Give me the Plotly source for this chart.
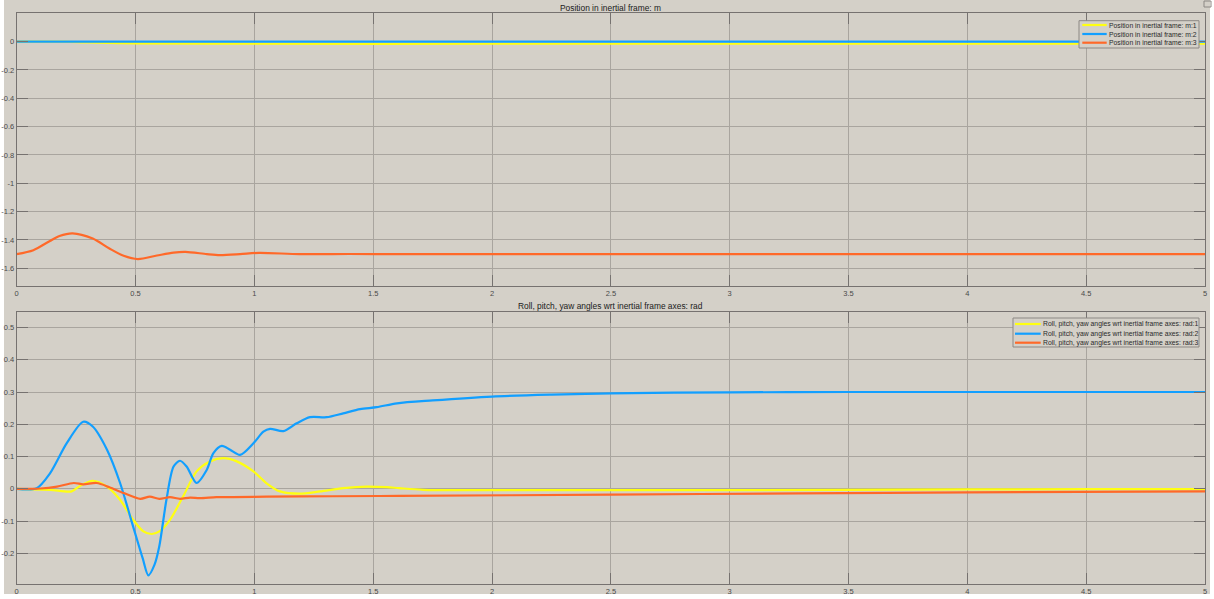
import plotly.graph_objects as go
from plotly.subplots import make_subplots

# ---------------- data ----------------
pos_title = "Position in inertial frame: m"
ang_title = "Roll, pitch, yaw angles wrt inertial frame axes: rad"

pos_names = ["Position in inertial frame: m:1", "Position in inertial frame: m:2", "Position in inertial frame: m:3"]
ang_names = ["Roll, pitch, yaw angles wrt inertial frame axes: rad:1",
             "Roll, pitch, yaw angles wrt inertial frame axes: rad:2",
             "Roll, pitch, yaw angles wrt inertial frame axes: rad:3"]

pos1_t = [0, 0.2, 0.3, 0.5, 1.0, 2.0, 3.0, 4.0, 5.0]
pos1_y = [0, 0, -0.006, -0.013, -0.015, -0.015, -0.015, -0.015, -0.015]

pos2_t = [0, 1, 2, 3, 4, 5]
pos2_y = [0, 0, 0, 0, 0, 0]

pos3_t = [0, 0.07, 0.14, 0.18, 0.235, 0.32, 0.39, 0.45, 0.51, 0.59, 0.66, 0.71, 0.8, 0.855,
          0.94, 1.02, 1.19, 1.4, 1.6, 2, 3, 4, 5]
pos3_y = [-1.5, -1.472, -1.407, -1.372, -1.353, -1.39, -1.46, -1.512, -1.535, -1.51, -1.489, -1.484,
          -1.5, -1.507, -1.5, -1.491, -1.5, -1.499, -1.5, -1.5, -1.5, -1.5, -1.5]

ang1_t = [0, 0.14, 0.231, 0.266, 0.32, 0.38, 0.435, 0.49, 0.533, 0.568, 0.60, 0.645, 0.70, 0.757,
          0.813, 0.87, 0.926, 0.996, 1.05, 1.108, 1.19, 1.276, 1.374, 1.473, 1.557, 1.61, 1.71,
          2.0, 3.0, 4.0, 4.5, 5.0]
ang1_y = [0, -0.003, -0.008, 0.009, 0.025, 0.007, -0.034, -0.096, -0.132, -0.140, -0.132, -0.096,
          -0.024, 0.054, 0.085, 0.095, 0.085, 0.054, 0.018, -0.008, -0.015, -0.008, 0.002, 0.007,
          0.005, 0.002, -0.003, -0.004, -0.004, -0.002, -0.001, -0.001]

ang2_t = [0, 0.084, 0.14, 0.21, 0.28, 0.32, 0.38, 0.435, 0.49, 0.53, 0.554, 0.58, 0.60, 0.63, 0.66,
          0.687, 0.715, 0.757, 0.80, 0.827, 0.863, 0.898, 0.94, 0.996, 1.038, 1.066, 1.122, 1.178,
          1.234, 1.304, 1.374, 1.445, 1.515, 1.6, 1.75, 2.0, 2.25, 2.5, 3.0, 3.5, 4.0, 4.5, 5.0]
ang2_y = [0, 0.002, 0.048, 0.141, 0.208, 0.193, 0.121, 0.018, -0.117, -0.215, -0.268, -0.235,
          -0.178, -0.034, 0.069, 0.087, 0.069, 0.018, 0.059, 0.11, 0.133, 0.121, 0.105, 0.141,
          0.177, 0.186, 0.179, 0.203, 0.222, 0.222, 0.234, 0.247, 0.253, 0.265, 0.274, 0.286,
          0.292, 0.296, 0.299, 0.300, 0.300, 0.300, 0.300]

ang3_t = [0, 0.1, 0.17, 0.24, 0.28, 0.337, 0.39, 0.45, 0.52, 0.56, 0.60, 0.645, 0.687, 0.73, 0.77,
          0.84, 0.91, 1.05, 1.33, 1.61, 2.5, 3.29, 4.0, 5.0]
ang3_y = [0, 0.001, 0.007, 0.018, 0.014, 0.018, 0.005, -0.013, -0.031, -0.024, -0.031, -0.026,
          -0.031, -0.027, -0.029, -0.026, -0.026, -0.024, -0.023, -0.022, -0.018, -0.014, -0.011,
          -0.008]

x_ticks = [0, 0.5, 1, 1.5, 2, 2.5, 3, 3.5, 4, 4.5, 5]
x_ticktext = ["0", "0.5", "1", "1.5", "2", "2.5", "3", "3.5", "4", "4.5", "5"]
pos_yticks = [0, -0.2, -0.4, -0.6, -0.8, -1, -1.2, -1.4, -1.6]
pos_yticktext = ["0", "-0.2", "-0.4", "-0.6", "-0.8", "-1", "-1.2", "-1.4", "-1.6"]
ang_yticks = [0.5, 0.4, 0.3, 0.2, 0.1, 0, -0.1, -0.2]
ang_yticktext = ["0.5", "0.4", "0.3", "0.2", "0.1", "0", "-0.1", "-0.2"]

colors = ["#ffff11", "#129fff", "#ff6929"]

# ---------------- figure ----------------
W, H = 1214, 599
BG = "#d4d0c8"
GRID = "#a9a59f"
AXLINE = "#767270"
LEGBORDER = "#8c8884"
FONT = "Liberation Sans, Arial, sans-serif"


def px(x):
    return x / W


def py(y):
    return 1 - y / H


fig = make_subplots(rows=2, cols=1)

x0p, x1p = px(16.7), px(1205)
top_dom = [py(286), py(13.3)]
bot_dom = [py(584), py(312)]

for i, (t, y) in enumerate([(pos1_t, pos1_y), (pos2_t, pos2_y), (pos3_t, pos3_y)]):
    fig.add_trace(go.Scatter(x=t, y=y, mode="lines", name=pos_names[i], showlegend=False,
                             line=dict(color=colors[i], width=2.2, shape="spline", smoothing=0.8)),
                  row=1, col=1)
for i, (t, y) in enumerate([(ang1_t, ang1_y), (ang2_t, ang2_y), (ang3_t, ang3_y)]):
    fig.add_trace(go.Scatter(x=t, y=y, mode="lines", name=ang_names[i], showlegend=False,
                             line=dict(color=colors[i], width=2.2, shape="spline", smoothing=0.8)),
                  row=2, col=1)

axis_common = dict(showgrid=True, gridcolor=GRID, gridwidth=1, zeroline=False,
                   showline=True, linecolor=AXLINE, linewidth=1, mirror="allticks",
                   ticks="inside", ticklen=11, tickcolor=AXLINE, tickwidth=1,
                   tickfont=dict(family=FONT, size=7.5, color="#4a4a4a"), automargin=False)

fig.update_xaxes(**axis_common, range=[0, 5], tickvals=x_ticks, ticktext=x_ticktext,
                 domain=[x0p, x1p])
fig.update_yaxes(**axis_common)
fig.update_yaxes(range=[-1.725, 0.2], tickvals=pos_yticks, ticktext=pos_yticktext,
                 domain=top_dom, row=1, col=1)
fig.update_yaxes(range=[-0.295, 0.548], tickvals=ang_yticks, ticktext=ang_yticktext,
                 domain=bot_dom, row=2, col=1)

shapes = [dict(type="rect", xref="paper", yref="paper", x0=px(4), x1=px(1210),
               y0=py(594), y1=1, fillcolor=BG, line=dict(width=0), layer="below"),
          dict(type="rect", xref="paper", yref="paper", x0=px(1204), x1=px(1211),
               y0=py(7), y1=py(1), fillcolor="rgba(0,0,0,0)",
               line=dict(width=1, color=LEGBORDER), layer="above")]
annotations = [
    dict(text=pos_title, xref="paper", yref="paper", x=(x0p + x1p) / 2, y=py(8),
         xanchor="center", yanchor="middle", showarrow=False,
         font=dict(family=FONT, size=8.4, color="#202020")),
    dict(text=ang_title, xref="paper", yref="paper", x=(x0p + x1p) / 2, y=py(306),
         xanchor="center", yanchor="middle", showarrow=False,
         font=dict(family=FONT, size=8.4, color="#202020")),
]


def add_legend(box, line_x, rows, text_x, names):
    bx0, by0, bx1, by1 = box
    shapes.append(dict(type="rect", xref="paper", yref="paper", x0=px(bx0), x1=px(bx1),
                       y0=py(by1), y1=py(by0), fillcolor=BG,
                       line=dict(width=1, color=LEGBORDER), layer="above"))
    for i, ry in enumerate(rows):
        shapes.append(dict(type="line", xref="paper", yref="paper", x0=px(line_x[0]), x1=px(line_x[1]),
                           y0=py(ry), y1=py(ry), line=dict(width=2.2, color=colors[i]), layer="above"))
        annotations.append(dict(text=names[i], xref="paper", yref="paper", x=px(text_x), y=py(ry),
                                xanchor="left", yanchor="middle", showarrow=False, borderpad=0,
                                font=dict(family=FONT, size=6.8, color="#2a2a2a")))


add_legend((1079, 20.7, 1199, 48), (1082.3, 1106.7), [25, 34, 42.7], 1108, pos_names)
add_legend((1013, 318, 1199, 347), (1015, 1040.7), [324, 333.7, 342.7], 1041.5, ang_names)

fig.update_layout(
    width=W, height=H,
    margin=dict(l=0, r=0, t=0, b=0),
    paper_bgcolor="white", plot_bgcolor=BG,
    showlegend=False,
    shapes=shapes,
    annotations=annotations,
)

fig.write_html("out.html", config={"displayModeBar": False},
               post_script="document.body.style.margin='0';document.body.style.overflow='hidden';")
